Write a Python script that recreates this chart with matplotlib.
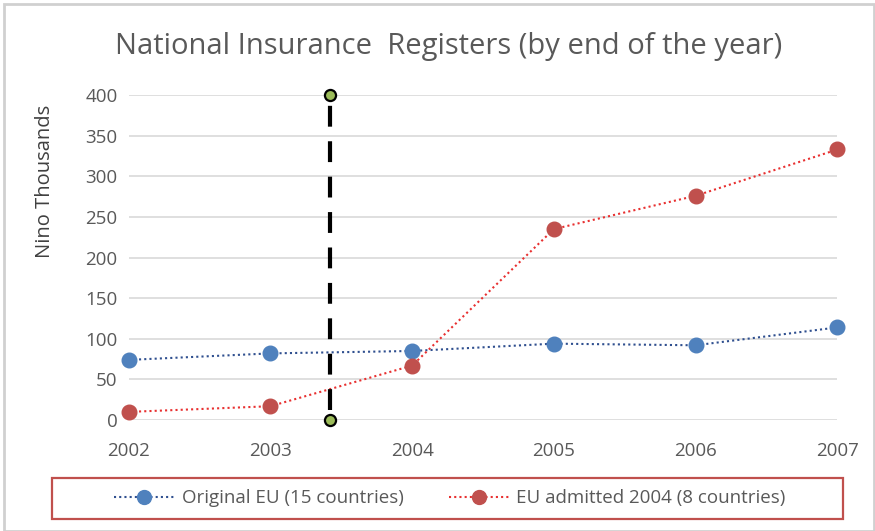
import matplotlib.pyplot as plt
from matplotlib.patches import Rectangle

years = [2002, 2003, 2004, 2005, 2006, 2007]
original_eu = [74, 82, 85, 94, 92, 114]
eu_2004 = [10, 17, 67, 235, 276, 333]
marker_x = 2003.42
marker_y = [0, 400]
yticks = [0, 50, 100, 150, 200, 250, 300, 350, 400]

plt.rcParams['font.family'] = ['Open Sans', 'DejaVu Sans']

fig = plt.figure(figsize=(8.75, 5.31), dpi=100)
ax = fig.add_axes([0.147, 0.209, 0.81, 0.612])

txt = '#595959'
ax.plot(years, original_eu, linestyle=(0, (1, 1.5)), color='#2f4f8f', lw=1.5,
        marker='o', ms=10.5, mfc='#4f81bd', mec='#4f81bd', clip_on=False,
        label='Original EU (15 countries)', zorder=3)
ax.plot(years, eu_2004, linestyle=(0, (1, 1.5)), color='#e83030', lw=1.5,
        marker='o', ms=10.5, mfc='#c0504d', mec='#c0504d', clip_on=False,
        label='EU admitted 2004 (8 countries)', zorder=3)
ax.plot([marker_x, marker_x], [marker_y[0] + 12, marker_y[1] - 12], color='black',
        lw=3, linestyle=(0, (5, 3.5)), zorder=4, clip_on=False)
ax.plot([marker_x, marker_x], marker_y, linestyle='none', marker='o', ms=8,
        mfc='#9bbb59', mec='black', mew=1.6, zorder=5, clip_on=False)

ax.set_xlim(2002, 2007)
ax.set_ylim(0, 400)
ax.set_yticks(yticks)
ax.set_xticks(years)
ax.grid(axis='y', color='#d9d9d9', lw=1.2)
ax.set_axisbelow(True)
for s in ax.spines.values():
    s.set_visible(False)
ax.tick_params(length=0, labelsize=13.5, colors=txt, pad=8)
ax.tick_params(axis='x', pad=16)
ax.set_ylabel('Nino Thousands', fontsize=14.5, color='#404040')
ax.yaxis.set_label_coords(-0.104, 0.735)
fig.text(0.513, 0.912, 'National Insurance  Registers (by end of the year)',
         ha='center', va='center', fontsize=21, color=txt)

leg = fig.legend(loc='center', bbox_to_anchor=(0.514, 0.062), ncol=2, frameon=False,
                 fontsize=13.5, handlelength=3.2, columnspacing=2.4, handletextpad=0.4,
                 labelcolor=txt)
for h in leg.legend_handles:
    h.set_markersize(10)

fig.patches.append(Rectangle((0.0594, 0.0226), 0.904, 0.0772, transform=fig.transFigure,
                             fill=False, edgecolor='#c0504d', lw=1.6))
fig.patches.append(Rectangle((0.005, 0.0), 0.994, 0.992, transform=fig.transFigure,
                             fill=False, edgecolor='#d0d0d0', lw=2))
fig.savefig('out.png', dpi=100)
